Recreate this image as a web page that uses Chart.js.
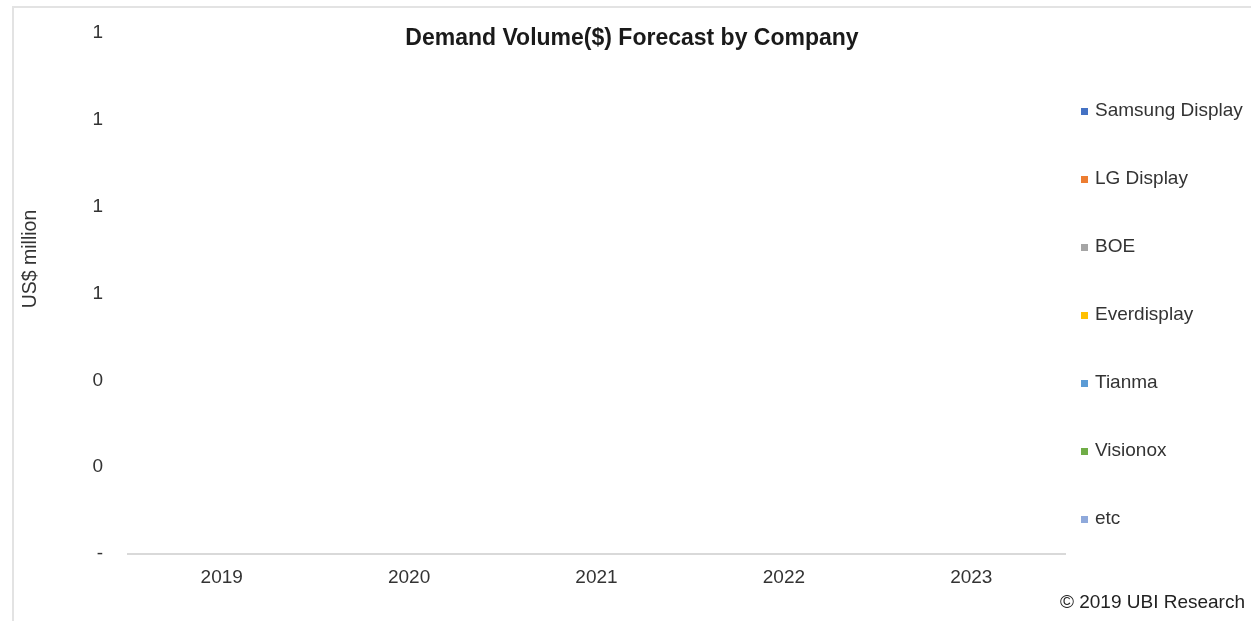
<!DOCTYPE html>
<html>
<head>
<meta charset="utf-8">
<script src="https://cdn.jsdelivr.net/npm/chart.js@4"></script>
<style>
  body { margin: 0; background: #fff; }
  #frame { position: absolute; left: 12px; top: 6px; width: 1245px; height: 620px;
           border-top: 2px solid #e3e3e3; border-left: 2px solid #e3e3e3; }
  #chart { position: absolute; left: 0; top: 0; }
</style>
</head>
<body>
<div id="frame"></div>
<canvas id="chart" width="1251" height="621"></canvas>
<script>
// years on the x axis
const years = ['2019', '2020', '2021', '2022', '2023'];

// company names + colours (Excel palette)
const companies = ['Samsung Display', 'LG Display', 'BOE', 'Everdisplay', 'Tianma', 'Visionox', 'etc'];
const companyColors = ['#4472C4', '#ED7D31', '#A5A5A5', '#FFC000', '#5B9BD5', '#70AD47', '#8FA9DB'];

// values - no bars are drawn, so every value is 0
const samsungDisplay = [0, 0, 0, 0, 0];
const lgDisplay = [0, 0, 0, 0, 0];
const boe = [0, 0, 0, 0, 0];
const everdisplay = [0, 0, 0, 0, 0];
const tianma = [0, 0, 0, 0, 0];
const visionox = [0, 0, 0, 0, 0];
const etc = [0, 0, 0, 0, 0];

// y axis ticks (shown rounded, like the Excel accounting format)
const yMax = 1.2;
const yStep = 0.2;

const seriesValues = [samsungDisplay, lgDisplay, boe, everdisplay, tianma, visionox, etc];
const FONT = "'Liberation Sans', Arial, sans-serif";
const TEXT = '#333';

//draw the axis title, the legend on the right and the copyright line
const sideText = {
    id: 'sideText',
    afterDraw(chart) {
        const ctx = chart.ctx;
        ctx.save();
        ctx.font = '19.5px ' + FONT;
        ctx.textBaseline = 'middle';

        // y axis title, sits a bit above the middle of the plot like in excel
        ctx.save();
        ctx.translate(31, 259);
        ctx.rotate(-Math.PI / 2);
        ctx.textAlign = 'center';
        ctx.fillStyle = TEXT;
        ctx.fillText('US$ million', 0, 0);
        ctx.restore();

        ctx.font = '19px ' + FONT;
        ctx.textAlign = 'left';
        chart.data.datasets.forEach((ds, i) => {
            const y = 111 + i * 68;
            ctx.fillStyle = ds.backgroundColor;
            ctx.fillRect(1081, y - 3, 7, 7);
            ctx.fillStyle = TEXT;
            ctx.fillText(ds.label, 1095, y);
        });
        ctx.textAlign = 'right';
        ctx.fillStyle = '#222';
        ctx.fillText('\u00A9 2019 UBI Research', 1245, 603);
        ctx.restore();
    }
};

const datasets = companies.map((name, i) => ({
    label: name,
    data: seriesValues[i],
    backgroundColor: companyColors[i],
    borderWidth: 0
}));

new Chart(document.getElementById('chart'), {
    type: 'bar',
    data: { labels: years, datasets: datasets },
    options: {
        responsive: false,
        animation: false,
        devicePixelRatio: 1,
        layout: { padding: { left: 13, right: 0, top: 0, bottom: 0 } },
        plugins: {
            legend: { display: false },
            tooltip: { enabled: false },
            title: {
                display: true,
                text: 'Demand Volume($) Forecast by Company',
                color: '#1a1a1a',
                font: { family: FONT, size: 23, weight: 'bold' },
                padding: { top: 25, bottom: -19.6 }
            }
        },
        scales: {
            x: {
                stacked: true,
                grid: { display: false, drawTicks: false },
                border: { display: true, color: '#d9d9d9', width: 2 },
                ticks: { color: TEXT, font: { family: FONT, size: 19 }, padding: 12 },
                afterFit(scale) { scale.height = 67; }
            },
            y: {
                stacked: true,
                min: 0,
                max: yMax,
                grid: { display: false, drawTicks: false },
                border: { display: false },
                ticks: {
                    stepSize: yStep,
                    color: TEXT,
                    font: { family: FONT, size: 19 },
                    padding: 25,
                    callback: v => (v === 0 ? '-' : Math.round(v))
                },
                afterFit(scale) {
                    scale.width = 115;
                    // top label may overhang, the title box already gives room
                    scale.paddingTop = 0;
                }
            },
            side: {
                position: 'right',
                display: true,
                grid: { display: false, drawTicks: false },
                border: { display: false },
                ticks: { display: false },
                afterFit(scale) { scale.width = 186; }
            }
        }
    },
    plugins: [sideText]
});
</script>
</body>
</html>
